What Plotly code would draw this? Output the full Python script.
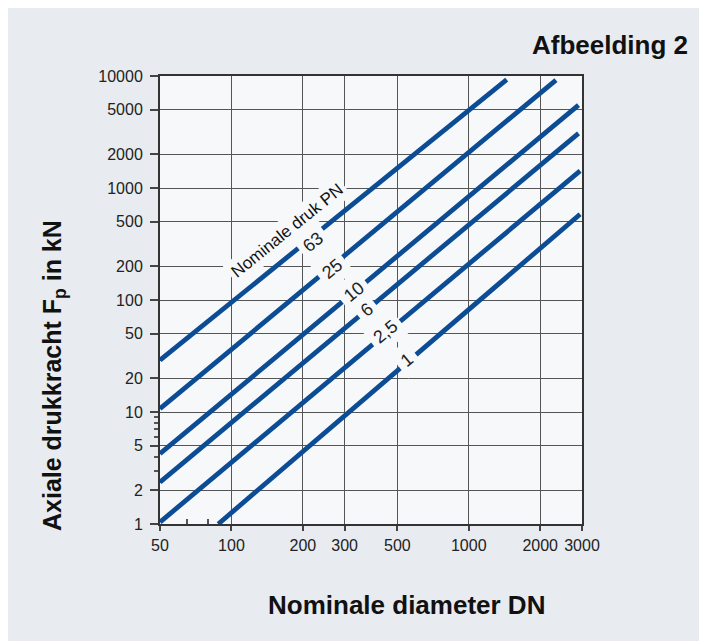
import math
import plotly.graph_objects as go

# ---- data ----
pn_labels = ["63", "25", "10", "6", "2,5", "1"]
dn_start = [50, 50, 50, 50, 50, 88]
dn_end = [1445, 2330, 2900, 2900, 2945, 2945]
f_start = [29, 10.7, 4.24, 2.36, 1.04, 1.0]
f_end = [9300, 9200, 5500, 3070, 1420, 583]

# label anchor points (DN, F) on each line
label_dn = [221, 265, 328, 371, 444, 548]
label_f = [330, 191, 118, 81, 52, 29]
title_label_dn = 172
title_label_f = 420

x_ticks = [50, 100, 200, 300, 500, 1000, 2000, 3000]
x_ticktext = ["50", "100", "200", "300", "500", "1000", "2000", "3000"]
y_ticks = [1, 2, 5, 10, 20, 50, 100, 200, 500, 1000, 2000, 5000, 10000]
y_ticktext = ["1", "2", "5", "10", "20", "50", "100", "200", "500", "1000", "2000", "5000", "10000"]
y_minor = [3, 4, 6, 7, 8, 9]
x_minor = [65, 80]

LINE_COLOR = "#0b4c94"
PLOT_BG = "#f7f8fa"
PANEL_BG = "#e8ebef"
FONT = "Liberation Sans, Arial, sans-serif"

fig = go.Figure()
for lab, x0, x1, y0, y1 in zip(pn_labels, dn_start, dn_end, f_start, f_end):
    fig.add_trace(go.Scatter(x=[x0, x1], y=[y0, y1], mode="lines",
                             line=dict(color=LINE_COLOR, width=4.8),
                             name="PN " + lab, hoverinfo="skip", showlegend=False))

# page has an 8px body margin; figure placed at (8, 8)
OFF = 8
W, H = 707 - OFF, 641 - OFF
ml, mr, mt, mb = 160 - OFF, 125, 76 - OFF, 117
pw, ph = W - ml - mr, H - mt - mb

def px_to_paper_x(px):
    return (px - OFF - ml) / pw

def py_to_paper_y(py):
    return (H - mb - (py - OFF)) / ph

annotations = []
for lab, dx, fy in zip(pn_labels, label_dn, label_f):
    annotations.append(dict(x=math.log10(dx), y=math.log10(fy), xref="x", yref="y",
                            text=lab, showarrow=False, textangle=-39,
                            font=dict(family=FONT, size=18, color="#222"),
                            bgcolor=PLOT_BG, borderpad=5))
annotations.append(dict(x=math.log10(title_label_dn), y=math.log10(title_label_f),
                        xref="x", yref="y", text="Nominale druk PN", showarrow=False,
                        textangle=-39, font=dict(family=FONT, size=17, color="#111"),
                        bgcolor=PLOT_BG, borderpad=3))
annotations.append(dict(x=px_to_paper_x(690), y=py_to_paper_y(45), xref="paper", yref="paper",
                        xanchor="right", yanchor="middle", showarrow=False,
                        text="<b>Afbeelding 2</b>", font=dict(family=FONT, size=26, color="#111")))
annotations.append(dict(x=px_to_paper_x(406), y=py_to_paper_y(605), xref="paper", yref="paper",
                        xanchor="center", yanchor="middle", showarrow=False,
                        text="<b>Nominale diameter DN</b>", font=dict(family=FONT, size=26, color="#111")))
annotations.append(dict(x=px_to_paper_x(54), y=py_to_paper_y(376), xref="paper", yref="paper",
                        xanchor="center", yanchor="middle", showarrow=False, textangle=-90,
                        text="<b>Axiale drukkracht F<sub>p</sub> in kN</b>",
                        font=dict(family=FONT, size=25, color="#111")))

fig.update_layout(
    width=W, height=H, margin=dict(l=ml, r=mr, t=mt, b=mb, pad=0),
    paper_bgcolor=PANEL_BG, plot_bgcolor=PLOT_BG,
    font=dict(family=FONT, size=16, color="#222"),
    annotations=annotations, showlegend=False,
    xaxis=dict(type="log", range=[math.log10(50), math.log10(3000)],
               tickvals=x_ticks, ticktext=x_ticktext, ticks="outside", ticklen=5,
               tickcolor="#444", tickwidth=1.5, ticklabelstandoff=1,
               showgrid=True, gridcolor="#555", gridwidth=1.4,
               showline=True, linecolor="#333", linewidth=2, mirror=True,
               zeroline=False, tickfont=dict(size=16, color="#222"),
               minor=dict(tickvals=x_minor, ticks="inside", ticklen=5, tickcolor="#555",
                          showgrid=False)),
    yaxis=dict(type="log", range=[0, 4],
               tickvals=y_ticks, ticktext=y_ticktext, ticks="outside", ticklen=8,
               tickcolor="#444", tickwidth=1.5, ticklabelstandoff=4,
               showgrid=True, gridcolor="#555", gridwidth=1.4,
               showline=True, linecolor="#333", linewidth=2, mirror=True,
               zeroline=False, tickfont=dict(size=16, color="#222"),
               minor=dict(tickvals=y_minor, ticks="outside", ticklen=4, tickcolor="#555",
                          showgrid=False)),
)

fig.write_html("out.html")
